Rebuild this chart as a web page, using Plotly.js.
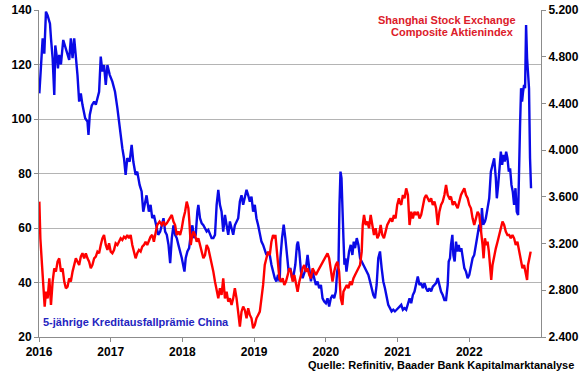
<!DOCTYPE html>
<html>
<head>
<meta charset="utf-8">
<script src="https://cdn.plot.ly/plotly-3.0.1.min.js"></script>
<style>html,body{margin:0;padding:0;background:#fff;}#chart{width:580px;height:375px;}</style>
</head>
<body>
<div id="chart"></div>
<script>
// 5-jährige Kreditausfallprämie China (left axis, bp) — decimal years
var cdsYears = [2016.005,2016.028,2016.051,2016.074,2016.097,2016.120,2016.153,2016.167,2016.190,2016.213,2016.227,2016.245,2016.264,2016.282,2016.306,2016.338,2016.375,2016.398,2016.421,2016.444,2016.468,2016.491,2016.514,2016.537,2016.560,2016.583,2016.606,2016.644,2016.676,2016.690,2016.708,2016.736,2016.769,2016.792,2016.815,2016.838,2016.861,2016.884,2016.907,2016.931,2016.954,2016.986,2017.023,2017.060,2017.093,2017.116,2017.139,2017.162,2017.185,2017.208,2017.231,2017.264,2017.292,2017.315,2017.347,2017.370,2017.403,2017.431,2017.454,2017.477,2017.500,2017.532,2017.556,2017.579,2017.602,2017.634,2017.662,2017.690,
2017.713,2017.736,2017.759,2017.782,2017.806,2017.829,2017.852,2017.875,2017.898,2017.921,2017.944,2017.968,2017.991,2018.028,2018.046,2018.069,2018.093,2018.116,2018.139,2018.162,2018.185,2018.208,2018.222,2018.245,2018.269,2018.292,2018.315,2018.338,2018.361,2018.384,2018.407,2018.431,2018.454,2018.477,2018.500,2018.523,2018.546,2018.569,2018.593,2018.616,2018.639,2018.662,2018.685,2018.708,2018.731,2018.755,2018.778,2018.801,2018.824,2018.847,2018.870,2018.894,2018.917,2018.940,2018.963,2018.986,2019.009,2019.032,2019.056,2019.079,2019.102,2019.125,2019.148,2019.171,2019.194,2019.218,2019.241,2019.264,2019.287,2019.310,2019.333,2019.356,
2019.366,2019.389,2019.412,2019.435,2019.458,2019.481,2019.505,2019.528,2019.551,2019.574,2019.597,2019.611,2019.630,2019.653,2019.676,2019.699,2019.722,2019.745,2019.769,2019.792,2019.815,2019.838,2019.861,2019.884,2019.907,2019.931,2019.954,2019.977,2020.000,2020.023,2020.046,2020.069,2020.093,2020.116,2020.139,2020.157,2020.176,2020.190,2020.204,2020.218,2020.231,2020.245,2020.259,2020.273,2020.287,2020.306,2020.324,2020.347,2020.370,2020.389,2020.407,2020.431,2020.454,2020.477,2020.500,2020.523,2020.546,2020.569,2020.593,2020.616,2020.639,2020.662,2020.685,2020.708,2020.731,2020.755,2020.778,2020.801,2020.824,2020.847,2020.870,2020.894,2020.917,2020.940,2020.963,2020.986,2021.009,2021.032,
2021.051,2021.074,2021.097,2021.120,2021.144,2021.167,2021.190,2021.213,2021.236,2021.259,2021.282,2021.306,2021.329,2021.352,2021.375,2021.398,2021.421,2021.444,2021.468,2021.491,2021.514,2021.537,2021.560,2021.583,2021.606,2021.630,2021.653,2021.676,2021.699,2021.713,2021.731,2021.745,2021.764,2021.778,2021.796,2021.815,2021.833,2021.852,2021.870,2021.889,2021.907,2021.931,2021.954,2021.977,2022.000,2022.023,2022.046,2022.069,2022.093,2022.116,2022.139,2022.162,2022.176,2022.194,2022.218,2022.231,2022.255,2022.278,2022.301,2022.324,2022.347,2022.370,2022.384,2022.403,2022.421,2022.440,2022.458,2022.477,2022.495,2022.514,2022.532,2022.551,2022.569,2022.588,2022.606,2022.625,2022.644,2022.662,2022.681,2022.694,2022.708,2022.722,2022.736,2022.750,2022.764,2022.778,2022.792,2022.806,2022.819,2022.833,2022.847,2022.861];
var cdsValues = [109.4,119.8,129.6,124,139.4,138,135,129.6,122.3,108.8,127,123.5,118.6,123.5,120,129,126,123.5,121.7,129.6,122.3,129.6,123.5,116,106.4,109.4,105.2,100.3,99,94.2,101.5,105,106.4,105.2,107.6,110,122.9,117.4,119.8,112.5,119.8,116.2,113.7,110,104,99,93,89.3,85.6,79.5,85.6,84.4,90.5,84.4,79.5,80.7,75.8,73.4,66,69.7,72,66,68.5,63.6,64.8,61,57.5,58.7,
61,63.6,58.7,57.5,53.8,47.1,56.3,61,57.5,56.3,53.8,51.4,49,44,49,51.4,52.6,57.5,61,56.3,57.5,66,68.5,63.6,61.7,61,59.9,58.7,59.3,57.5,56.3,56.3,57.5,68.5,74,68.5,66,58.7,64.8,61,57.5,62.4,59.9,57.5,61,62.4,63.6,69.7,72,68.5,71,74,72,69.7,71.5,66,68.5,63.6,61,57.5,55,53.8,51.4,50.1,50.8,50.1,46.5,44,41.6,40.4,42.8,40.4,
48.9,56.3,61.2,56.3,48.9,44,45.3,41.6,42.8,46.5,53.8,55,51.4,44,41.6,44,45.3,50.1,45.3,40.4,44,41.6,39.1,40.4,37.9,39.1,34.2,33,32.4,34.2,31.2,34.2,35.4,34.2,36.7,44,46.5,68.5,80.7,78.3,62.4,56.3,46.5,48.9,44,47.7,51.4,53.8,50.1,55,52.6,56.3,53.8,48.9,47.7,46.5,45.3,44,42.8,40.4,37.9,35.4,34.2,39.1,48.9,51.4,45.3,40.4,37.9,34.2,31.8,30.6,29.4,30,29.4,30,30.6,31.2,
31.8,30,30.6,30,32.4,34.2,32.4,35.4,36.7,39.1,42.2,39.1,39.8,37.9,39.8,37.9,36.7,37.9,36.7,38.5,39.1,39.8,41.6,39.1,36.7,35.4,33.6,33.6,39.1,47.7,48.9,53.8,57.5,50.1,47.7,55,51.4,53.8,51.4,52.6,50.1,45.3,44,41.6,42.8,46.5,48.9,50.1,55,57.5,61.2,58.7,67.3,61.2,62.4,63.6,67.3,70.9,80.7,83.2,85.6,78.3,70.9,75.8,80.7,88,83.2,86.8,84.4,88,85.6,80.7,81.9,75.8,73.4,68.5,74.6,66,64.8,86.8,97.8,111.3,106.4,110,112.5,111.3,134.5,122.3,117.4,111.3,85.6,74.6];

// Shanghai Stock Exchange Composite Aktienindex (right axis, points)
var sseYears = [2016.005,2016.019,2016.042,2016.060,2016.079,2016.097,2016.120,2016.144,2016.167,2016.190,2016.213,2016.236,2016.259,2016.282,2016.306,2016.329,2016.352,2016.375,2016.398,2016.421,2016.444,2016.468,2016.491,2016.514,2016.537,2016.560,2016.583,2016.606,2016.630,2016.653,2016.676,2016.699,2016.722,2016.745,2016.769,2016.792,2016.815,2016.838,2016.861,2016.884,2016.907,2016.931,2016.954,2016.977,2017.000,2017.023,2017.046,2017.069,2017.093,2017.116,2017.139,2017.162,2017.185,2017.208,2017.231,2017.255,2017.278,2017.301,2017.324,2017.347,2017.370,2017.394,2017.417,2017.440,2017.463,2017.486,2017.509,2017.532,2017.556,2017.579,2017.602,2017.625,2017.648,2017.681,
2017.713,2017.736,2017.759,2017.782,2017.806,2017.829,2017.852,2017.875,2017.898,2017.921,2017.944,2017.968,2017.991,2018.014,2018.037,2018.060,2018.083,2018.097,2018.116,2018.130,2018.153,2018.176,2018.199,2018.222,2018.245,2018.269,2018.292,2018.315,2018.338,2018.361,2018.384,2018.407,2018.431,2018.454,2018.477,2018.500,2018.523,2018.546,2018.569,2018.593,2018.616,2018.639,2018.662,2018.685,2018.708,2018.731,2018.755,2018.778,2018.801,2018.824,2018.847,2018.870,2018.894,2018.917,2018.940,2018.963,2018.986,2019.009,2019.032,2019.056,2019.079,2019.102,2019.125,2019.148,2019.171,2019.194,2019.218,2019.241,2019.264,2019.287,
2019.296,2019.310,2019.329,2019.352,2019.375,2019.398,2019.421,2019.444,2019.468,2019.491,2019.514,2019.537,2019.560,2019.583,2019.606,2019.630,2019.653,2019.676,2019.699,2019.722,2019.745,2019.769,2019.792,2019.815,2019.838,2019.861,2019.884,2019.907,2019.931,2019.954,2019.977,2020.000,2020.023,2020.046,2020.069,2020.093,2020.116,2020.139,2020.162,2020.185,2020.208,2020.231,2020.245,2020.269,2020.292,2020.315,2020.338,2020.361,2020.384,2020.407,2020.431,2020.454,2020.477,2020.500,2020.514,2020.532,2020.556,2020.579,2020.602,2020.625,2020.648,2020.671,2020.694,2020.718,2020.741,2020.764,2020.787,2020.810,2020.833,2020.856,2020.880,2020.903,2020.926,2020.949,2020.972,2020.995,2021.019,
2021.028,2021.051,2021.074,2021.097,2021.120,2021.144,2021.167,2021.190,2021.213,2021.236,2021.259,2021.282,2021.306,2021.329,2021.352,2021.375,2021.398,2021.421,2021.444,2021.468,2021.491,2021.514,2021.537,2021.560,2021.583,2021.606,2021.630,2021.653,2021.676,2021.699,2021.722,2021.745,2021.769,2021.792,2021.815,2021.838,2021.861,2021.884,2021.907,2021.931,2021.954,2021.977,2022.000,2022.023,2022.046,2022.069,2022.093,2022.116,2022.139,2022.162,2022.185,2022.199,2022.218,2022.236,2022.255,2022.273,2022.292,2022.306,2022.324,2022.347,2022.370,2022.394,2022.417,2022.440,2022.463,2022.486,2022.509,2022.532,2022.556,2022.579,2022.602,2022.625,2022.648,2022.671,2022.694,2022.718,2022.741,2022.764,2022.787,2022.806,2022.819,2022.838,2022.856];
var sseValues = [3559,3245,3017,2874,2660,2788,2731,2902,2674,2874,2988,2960,3045,3074,2960,2988,2874,2817,2831,2902,2874,2960,3017,3074,3045,3017,3088,3117,3074,3117,3074,3045,2988,3017,3074,3088,3131,3117,3188,3245,3274,3188,3145,3202,3131,3117,3145,3202,3188,3216,3245,3231,3259,3245,3274,3245,3274,3188,3131,3074,3117,3145,3131,3174,3188,3216,3188,3231,3259,3274,3216,3288,3359,3388,
3359,3388,3359,3373,3402,3416,3445,3388,3359,3274,3302,3274,3331,3416,3473,3559,3502,3388,3188,3245,3302,3274,3216,3245,3188,3131,3074,3102,3188,3159,3102,3045,2960,2874,2788,2731,2817,2760,2902,2731,2788,2703,2731,2674,2731,2817,2731,2589,2489,2617,2660,2631,2560,2646,2589,2560,2475,2503,2560,2589,2617,2731,2846,3017,3074,3131,3102,3216,3274,3245,
3274,3188,3017,2902,2874,2902,2846,2874,2931,2988,2960,2874,2931,2846,2788,2874,2931,2988,3017,2960,2988,2931,2902,2988,2960,2931,2960,2988,3017,3045,3074,3102,3117,3074,2988,2874,2960,3017,3045,2960,2731,2674,2788,2817,2846,2817,2874,2846,2902,2931,2960,2988,3017,3131,3359,3445,3359,3388,3331,3445,3359,3274,3331,3245,3274,3359,3274,3245,3302,3359,3388,3416,3388,3445,3416,3531,3588,
3559,3531,3616,3588,3673,3616,3359,3473,3416,3473,3445,3473,3416,3445,3531,3588,3616,3588,3559,3588,3531,3559,3502,3359,3473,3531,3559,3616,3702,3616,3588,3602,3531,3559,3531,3502,3559,3616,3645,3673,3616,3588,3531,3502,3416,3359,3416,3473,3445,3331,3188,3074,3245,3188,3216,3131,2988,2888,3017,3102,3159,3216,3274,3331,3388,3359,3302,3274,3274,3245,3274,3245,3188,3216,3131,3045,2988,3017,2960,2888,3017,3074,3131];

var yearTicks = [2016,2017,2018,2019,2020,2021,2022];
var yearLabels = ['2016','2017','2018','2019','2020','2021','2022'];
var labelCds = '5-jährige Kreditausfallprämie China';
var labelSse1 = 'Shanghai Stock Exchange';
var labelSse2 = 'Composite Aktienindex';
var sourceText = 'Quelle: Refinitiv, Baader Bank Kapitalmarktanalyse';

var FONT = 'Liberation Sans, Arial, sans-serif';
var traces = [
  {x: cdsYears, y: cdsValues, type: 'scatter', mode: 'lines', yaxis: 'y',
   line: {color: '#0a0ae6', width: 2.4}, hoverinfo: 'skip'},
  {x: sseYears, y: sseValues, type: 'scatter', mode: 'lines', yaxis: 'y2',
   line: {color: '#ff0000', width: 2.4}, hoverinfo: 'skip'}
];
var tickFont = {family: FONT, size: 12, color: '#000', weight: 700};
var sseFont = {family: FONT, size: 11, color: '#dc202a'};
var layout = {
  width: 580, height: 375,
  margin: {l: 39, r: 39, t: 10, b: 38, pad: 0},
  paper_bgcolor: '#fff', plot_bgcolor: '#fff',
  showlegend: false,
  separators: ',.',
  xaxis: {range: [2016, 2023], tickvals: yearTicks, ticktext: yearLabels,
          showgrid: false, zeroline: false, showline: true, linecolor: '#8c8c8c', linewidth: 1,
          ticks: 'outside', ticklen: 4, tickcolor: '#8c8c8c', tickfont: tickFont},
  yaxis: {range: [20, 140], dtick: 20, showgrid: true, gridcolor: '#b4b4b4', gridwidth: 1,
          zeroline: false, showline: true, linecolor: '#8c8c8c', linewidth: 1,
          ticks: 'outside', ticklen: 4, tickcolor: '#8c8c8c', tickfont: tickFont},
  yaxis2: {range: [2400, 5200], dtick: 400, overlaying: 'y', side: 'right',
           showgrid: false, zeroline: false, showline: true, linecolor: '#8c8c8c', linewidth: 1,
           ticks: 'outside', ticklen: 4, tickcolor: '#8c8c8c', tickformat: ',.0f', tickfont: tickFont},
  annotations: [
    {xref: 'paper', yref: 'paper', x: 0.954, y: 0.9685, xanchor: 'right', yanchor: 'middle',
     showarrow: false, text: '<b>' + labelSse1 + '</b>', font: sseFont},
    {xref: 'paper', yref: 'paper', x: 0.951, y: 0.9327, xanchor: 'right', yanchor: 'middle',
     showarrow: false, text: '<b>' + labelSse2 + '</b>', font: sseFont},
    {xref: 'paper', yref: 'paper', x: 0.004, y: 0.046, xanchor: 'left', yanchor: 'middle',
     showarrow: false, text: '<b>' + labelCds + '</b>', font: {family: FONT, size: 11, color: '#2424c0'}},
    {xref: 'paper', yref: 'paper', x: 1.07, y: -0.086, xanchor: 'right', yanchor: 'middle',
     showarrow: false, text: '<b>' + sourceText + '</b>', font: {family: FONT, size: 11, color: '#000'}}
  ]
};
Plotly.newPlot('chart', traces, layout, {displayModeBar: false, staticPlot: true});
</script>
</body>
</html>
